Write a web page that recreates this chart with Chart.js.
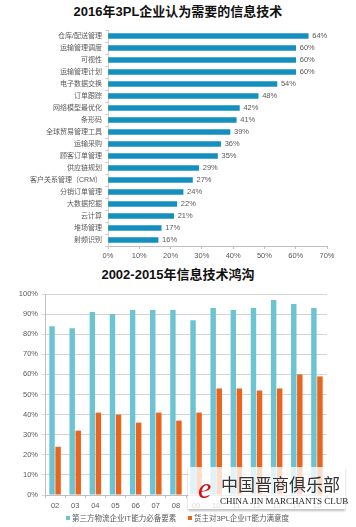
<!DOCTYPE html>
<html><head><meta charset="utf-8">
<script src="https://cdn.jsdelivr.net/npm/chart.js@4.4.1/dist/chart.umd.min.js"></script>
<style>
html,body{margin:0;padding:0;background:#fff;width:356px;height:527px;overflow:hidden;position:relative;font-family:"Liberation Sans","Noto Sans CJK SC",sans-serif;}
.t{position:absolute;left:0;width:356px;text-align:center;font-weight:bold;font-size:13px;color:#111;line-height:16px;}
#c1wrap{position:absolute;left:0;top:0;width:356px;height:264px;}
#c2wrap{position:absolute;left:0;top:262px;width:356px;height:249px;}
.lgd{position:absolute;top:514px;font-size:7.5px;color:#595959;line-height:10px;white-space:nowrap;}
.lgd i{display:inline-block;width:4px;height:4px;margin-right:2px;vertical-align:1px;}
#wm{position:absolute;left:188px;top:467px;width:157px;height:42px;background:rgba(255,255,255,0.78);box-shadow:0 2px 2px rgba(0,0,0,0.25);}
#wm .cn{position:absolute;left:33px;top:4px;font-family:"DejaVu Serif","Noto Sans CJK SC",serif;font-size:17px;color:#333;white-space:nowrap;}
#wm .en{position:absolute;left:32px;top:29px;font-family:"Liberation Serif",serif;font-size:9px;color:#222;white-space:nowrap;}
#wm .lg{position:absolute;left:10px;top:6px;font-family:"Liberation Serif",serif;font-style:italic;font-size:30px;color:#d0141b;line-height:30px;}
</style></head>
<body>
<div class="t" style="top:4px">2016年3PL企业认为需要的信息技术</div>
<div id="c1wrap"><canvas id="c1"></canvas></div>
<div class="t" style="top:267px">2002-2015年信息技术鸿沟</div>
<div id="c2wrap"><canvas id="c2"></canvas></div>
<div id="legend"></div>
<div id="wm"><span class="lg">e</span><span class="cn">中国晋商俱乐部</span><span class="en">CHINA JIN MARCHANTS CLUB</span></div>
<script>
const techLabels = ["仓库/配送管理","运输管理调度","可视性","运输管理计划","电子数据交换","订单跟踪","网络模型最优化","条形码","全球贸易管理工具","运输采购","顾客订单管理","供应链规划","客户关系管理（CRM）","分销订单管理","大数据挖掘","云计算","堆场管理","射频识别"];
const techValues = [64,60,60,60,54,48,42,41,39,36,35,29,27,24,22,21,17,16];

const years = ["02","03","04","05","06","07","08","09","10","11","12","13","14","15"];
const seriesNames = ["第三方物流企业IT能力必备要素","货主对3PL企业IT能力满意度"];
const requiredValues = [84,83,91,90,92,92,92,87,93,92,93,97,95,93];
const satisfactionValues = [24,32,41,40,36,41,37,41,53,53,52,53,60,59];
const seriesColors = ['#6cc4d3','#e8641f'];

const FONT = '"Liberation Sans","Noto Sans CJK SC",sans-serif';
const GREY = '#595959';

const valueLabels = {
  id:'valueLabels',
  afterDatasetsDraw(chart){
    const ctx = chart.ctx;
    const meta = chart.getDatasetMeta(0);
    ctx.save();
    ctx.font = '7.5px ' + FONT;
    ctx.fillStyle = GREY;
    ctx.textBaseline = 'middle';
    ctx.textAlign = 'left';
    meta.data.forEach((el,i)=>{
      ctx.fillText(chart.data.datasets[0].data[i] + '%', el.x + 4, el.y);
    });
    ctx.restore();
  }
};

new Chart(document.getElementById('c1'), {
  type:'bar',
  data:{labels:techLabels, datasets:[{data:techValues, backgroundColor:'#1590be', barThickness:5}]},
  options:{
    indexAxis:'y', responsive:true, maintainAspectRatio:false, animation:false,
    layout:{padding:{top:30,right:29,left:0,bottom:0}},
    plugins:{legend:{display:false}, tooltip:{enabled:false}},
    scales:{
      x:{min:0,max:70,
         ticks:{stepSize:10, callback:v=>v+'%', color:GREY, font:{size:7.5,family:FONT}, padding:2, maxRotation:0},
         grid:{drawOnChartArea:false, tickLength:3, color:'#bfbfbf'},
         border:{color:'#bfbfbf'},
         afterFit(s){s.height=18;}
      },
      y:{
         ticks:{color:GREY, font:{size:7,family:FONT}, padding:3, autoSkip:false},
         grid:{drawOnChartArea:false, tickLength:3, color:'#d0d0d0'},
         border:{color:'#d0d0d0'},
         afterFit(s){s.width=108;}
      }
    }
  },
  plugins:[valueLabels]
});

const chart2 = new Chart(document.getElementById('c2'), {
  type:'bar',
  data:{labels:years, datasets:[
    {label:seriesNames[0], data:requiredValues, backgroundColor:seriesColors[0], categoryPercentage:0.6, barPercentage:0.9},
    {label:seriesNames[1], data:satisfactionValues, backgroundColor:seriesColors[1], categoryPercentage:0.6, barPercentage:0.9}
  ]},
  options:{
    responsive:true, maintainAspectRatio:false, animation:false,
    layout:{padding:{top:32,right:29,left:0,bottom:0}},
    plugins:{legend:{display:false}, tooltip:{enabled:false}},
    scales:{
      x:{
        ticks:{color:GREY, font:{size:7.5,family:FONT}, padding:3, maxRotation:0, autoSkip:false},
        grid:{drawOnChartArea:false, tickLength:3, color:'#bfbfbf', offset:true},
        border:{color:'#bfbfbf'},
        afterFit(s){s.height=16;}
      },
      y:{min:0,max:100,
        ticks:{stepSize:10, callback:v=>v+'%', color:GREY, font:{size:7.5,family:FONT}, padding:4},
        grid:{color:'#d4d4d4', tickLength:3},
        border:{color:'#bfbfbf'},
        afterFit(s){s.width=45;}
      }
    }
  }
});

// HTML legend built from the chart's datasets
const legendLefts = [66, 188];
const lg = document.getElementById('legend');
chart2.data.datasets.forEach((ds,i)=>{
  const d = document.createElement('div');
  d.className = 'lgd';
  d.style.left = legendLefts[i] + 'px';
  d.innerHTML = '<i style="background:' + ds.backgroundColor + '"></i>' + ds.label;
  lg.appendChild(d);
});
</script>
</body></html>
